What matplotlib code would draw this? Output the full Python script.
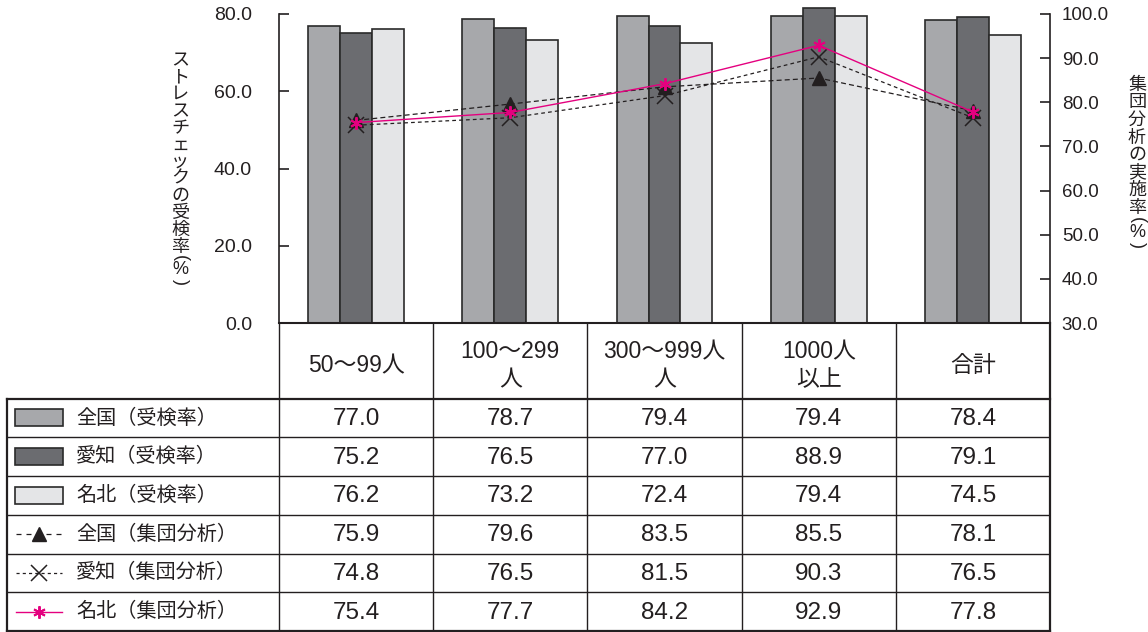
import numpy as np
import matplotlib
matplotlib.use('Agg')
from matplotlib import pyplot as plt
from matplotlib.patches import Rectangle
from matplotlib.lines import Line2D

plt.rcParams['font.family'] = ['Liberation Sans', 'Noto Sans CJK JP', 'DejaVu Sans']

# data
categories = ['50～99人', '100～299\n人', '300～999人\n人', '1000人\n以上', '合計']
national_rate = [77.0, 78.7, 79.4, 79.4, 78.4]
aichi_rate = [75.2, 76.5, 77.0, 88.9, 79.1]
# the original chart draws the 愛知 1000人以上 bar only just above the 80.0 line
aichi_rate_bar = [75.2, 76.5, 77.0, 81.5, 79.1]
meihoku_rate = [76.2, 73.2, 72.4, 79.4, 74.5]
national_group = [75.9, 79.6, 83.5, 85.5, 78.1]
aichi_group = [74.8, 76.5, 81.5, 90.3, 76.5]
meihoku_group = [75.4, 77.7, 84.2, 92.9, 77.8]
series_labels = ['全国（受検率）', '愛知（受検率）', '名北（受検率）',
                 '全国（集団分析）', '愛知（集団分析）', '名北（集団分析）']
left_ticks = [0, 20, 40, 60, 80]
right_ticks = [30, 40, 50, 60, 70, 80, 90, 100]
left_label = 'ストレスチェックの受検率'
right_label = '集団分析の実施率'

W, H = 1148, 632
bar_colors = ['#a7a8ab', '#6b6c70', '#e4e5e7']
edge = '#2a2a2a'
ink = '#231f20'
pink = '#e4007f'
jp = ['Noto Sans CJK JP', 'DejaVu Sans']

fig = plt.figure(figsize=(W / 100, H / 100), dpi=100)

# chart area (pixel box 279..1050 x 14..323)
ax = fig.add_axes([279 / W, (H - 323) / H, 771 / W, 309 / H])
x = np.arange(len(categories))
bw = 0.2075
for k, vals in enumerate([national_rate, aichi_rate_bar, meihoku_rate]):
    bars = ax.bar(x + (k - 1) * bw, vals, bw, color=bar_colors[k],
                  edgecolor=edge, linewidth=1.2, zorder=2)
    for b in bars:
        b.set_clip_on(False)
ax.set_xlim(-0.5, 4.5)
ax.set_ylim(0, 80)
ax.set_xticks([])
ax.set_yticks(left_ticks)
ax.set_yticklabels([f'{v:.1f}' for v in left_ticks])
ax.tick_params(axis='y', direction='in', length=7, width=1.2, pad=19.5,
               labelsize=14, colors=ink)
for s in ['top', 'right']:
    ax.spines[s].set_visible(False)
ax.spines['left'].set_linewidth(1.2)
ax.spines['bottom'].set_linewidth(1.5)
ax.spines['left'].set_color(ink)
ax.spines['bottom'].set_color(ink)

ax2 = ax.twinx()
ax2.set_ylim(30, 100)
ax2.set_yticks(right_ticks)
ax2.set_yticklabels([f'{v:.1f}' for v in right_ticks])
ax2.tick_params(axis='y', direction='in', length=7, width=1.2, pad=8.5,
                labelsize=13.5, colors=ink)
for s in ['top', 'left', 'bottom']:
    ax2.spines[s].set_visible(False)
ax2.spines['right'].set_linewidth(1.2)
ax2.spines['right'].set_color(ink)

ast = (6, 2, 0)
ax2.plot(x, national_group, color=ink, lw=0.9, ls=(0, (4, 2.5)),
         marker='^', ms=10, mfc=ink, mec=ink, clip_on=False, zorder=3)
ax2.plot(x, aichi_group, color=ink, lw=0.9, ls=(0, (3, 2.5)),
         marker='x', ms=11, mew=1.1, mec=ink, clip_on=False, zorder=3)
ax2.plot(x, meihoku_group, color=pink, lw=1.0, marker=ast, ms=9, mew=1.4,
         mec=pink, clip_on=False, zorder=4)

# overlay in pixel coordinates for the table and vertical titles
tab = fig.add_axes([0, 0, 1, 1])
tab.set_xlim(0, W)
tab.set_ylim(H, 0)
tab.axis('off')


def vertical_text(s, xc, y0, pitch, size, gaps):
    y = y0
    for ch in s:
        tab.text(xc, y, ch, ha='center', va='center', fontsize=size,
                 color=ink, family=jp)
        y += pitch
    yl = y - pitch
    tab.text(xc, yl + gaps[0], '(', rotation=270, ha='center', va='center',
             fontsize=size, color=ink)
    tab.text(xc, yl + gaps[1], '%', ha='center', va='center',
             fontsize=size, color=ink)
    tab.text(xc, yl + gaps[2], ')', rotation=270, ha='center', va='center',
             fontsize=size, color=ink)


vertical_text(left_label, 180, 60, 17.0, 13, (11, 23, 35))
vertical_text(right_label, 1137, 85, 17.5, 13, (13, 25, 37))

# table layout
col_edges = [279, 433.2, 587.4, 741.6, 895.8, 1050]
left_edge = 7
head_top, head_bot, bottom = 323, 398.5, 631
row_h = (bottom - head_bot) / 6
lk = dict(color=ink, lw=1.0, solid_capstyle='butt')
outer = dict(color=ink, lw=1.6, solid_capstyle='projecting')

for cx in col_edges[:-1]:
    tab.plot([cx, cx], [head_top, bottom], **lk)
tab.plot([col_edges[-1], col_edges[-1]], [head_top, bottom], **outer)
tab.plot([left_edge, left_edge], [head_bot, bottom], **outer)
tab.plot([left_edge, col_edges[-1]], [bottom, bottom], **outer)
tab.plot([left_edge, col_edges[-1]], [head_bot, head_bot], **outer)
for r in range(1, 6):
    yy = head_bot + r * row_h
    tab.plot([left_edge, col_edges[-1]], [yy, yy], **lk)

for i, cat in enumerate(categories):
    cx = (col_edges[i] + col_edges[i + 1]) / 2
    tab.text(cx, (head_top + head_bot) / 2 + 5, cat, ha='center', va='center',
             fontsize=16.5, color=ink, linespacing=1.25)

table_rows = [national_rate, aichi_rate, meihoku_rate,
              national_group, aichi_group, meihoku_group]
for r, vals in enumerate(table_rows):
    yc = head_bot + (r + 0.5) * row_h
    for i, v in enumerate(vals):
        cx = (col_edges[i] + col_edges[i + 1]) / 2
        tab.text(cx, yc + 1, f'{v:.1f}', ha='center', va='center',
                 fontsize=17.5, color=ink)
    tab.text(76, yc, series_labels[r], ha='left', va='center', fontsize=14.5,
             color=ink, family=jp)
    if r < 3:
        tab.add_patch(Rectangle((15, yc - 8.5), 48, 17, facecolor=bar_colors[r],
                                edgecolor=edge, lw=1.2))

# legend line keys
y3 = head_bot + 3.5 * row_h
y4 = head_bot + 4.5 * row_h
y5 = head_bot + 5.5 * row_h
tab.add_line(Line2D([16, 62], [y3, y3], color=ink, lw=0.9, ls=(0, (4, 4))))
tab.plot([39], [y3], marker='^', ms=10, color=ink, ls='none')
tab.add_line(Line2D([16, 62], [y4, y4], color=ink, lw=0.9, ls=(0, (2.5, 2.5))))
tab.plot([39], [y4], marker='x', ms=11, mew=1.1, color=ink, ls='none')
tab.add_line(Line2D([16, 62], [y5, y5], color=pink, lw=1.0))
tab.plot([39], [y5], marker=ast, ms=9, mew=1.4, color=pink, ls='none')

fig.savefig('out.png', dpi=100)
